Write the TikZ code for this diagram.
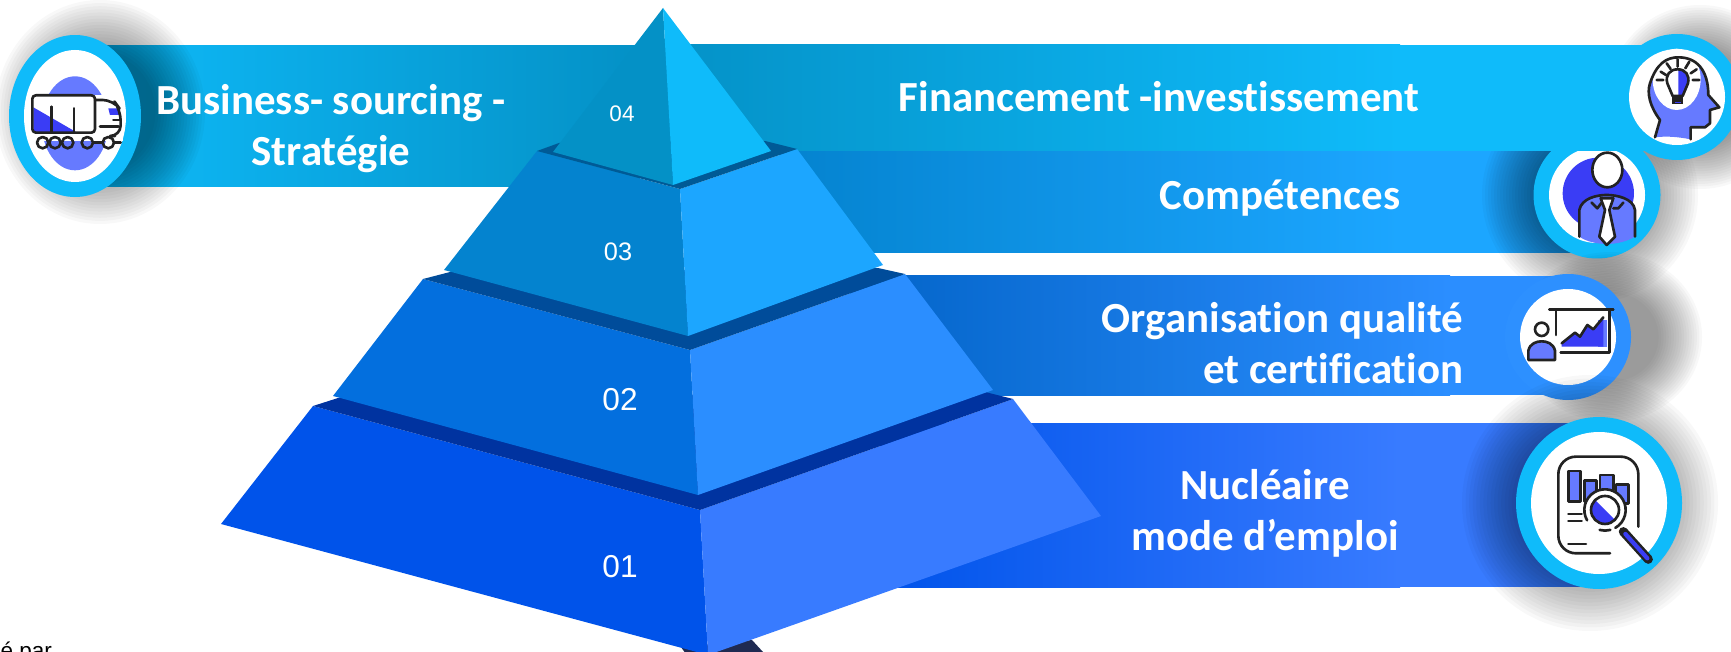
\documentclass[tikz,border=0pt]{standalone}
\usepackage{fontspec}
\setmainfont[Ligatures=NoCommon]{Carlito}
\newfontfamily\numfont{Liberation Sans}

\definecolor{ringcyan}{HTML}{0FBBFA}
\definecolor{ringblue}{HTML}{2D90FF}
\definecolor{iconlight}{HTML}{667AFF}
\definecolor{icondeep}{HTML}{3A3DF5}
\definecolor{iconink}{HTML}{222222}
\definecolor{faceA}{HTML}{0053EA}
\definecolor{faceB}{HTML}{387BFF}
\definecolor{faceC}{HTML}{036FDE}
\definecolor{faceD}{HTML}{2B8EFF}
\definecolor{faceE}{HTML}{0483CF}
\definecolor{faceF}{HTML}{1CA6FF}
\definecolor{faceG}{HTML}{0491C6}
\definecolor{faceH}{HTML}{0FBBFA}
\definecolor{rimA}{HTML}{0033A0}
\definecolor{rimB}{HTML}{004C9A}
\definecolor{rimC}{HTML}{005A96}
\definecolor{baseink}{HTML}{1F2A52}

\tikzset{
	haze/.style={fill=black, opacity=0.028},
	barlabel/.style={text=white, font=\fontsize{12.2}{14.5}\selectfont\bfseries, inner sep=0},
	levellabel/.style={text=white, inner sep=0},
	iconline/.style={draw=iconink, line width=0.75pt, line cap=round, line join=round}
}

\begin{document}
\begin{tikzpicture}[x=0.01cm, y=-0.01cm]
	\useasboundingbox (0, 0) rectangle (1731, 652);
	\clip (0, 0) rectangle (1731, 652);
	% Bands, rings and icons, then the pyramid over them:
	\node[anchor=base west, inner sep=0, font=\numfont\fontsize{6.4}{8}\selectfont] (bylabel) at (0, 658) {é par};
	\foreach \k in {1,...,18} \fill[haze] (1700, 97) circle [radius={92*(0.5+\k/36)}];
	\shade[left color=faceE, right color=faceF] (780, 151) rectangle (1400, 253);
	\fill[faceF] (1399, 151) rectangle (1590, 253);
	\foreach \k in {1,...,18} \fill[haze] (1590, 195) circle [radius={108*(0.5+\k/36)}];
	\fill[ringcyan] (1597, 195) circle [radius=63.5];
	\fill[white] (1597, 195) circle [radius=48];
	\shade[left color=faceG, right color=faceH] (650, 45) rectangle (1400, 151);
	\fill[faceH] (1399, 45) rectangle (1660, 151);
	\fill[ringcyan] (1677, 97) circle [radius=63];
	\fill[white] (1677, 97) circle [radius=48];
	\shade[left color=faceH, right color=faceG] (75, 46) rectangle (640, 187);
	\foreach \k in {1,...,18} \fill[haze] (100, 112) ellipse [x radius={105*(0.5+\k/36)}, y radius={112*(0.5+\k/36)}];
	\fill[ringcyan] (75, 116) ellipse [x radius=66, y radius=81];
	\fill[white] (75, 116) ellipse [x radius=51, y radius=66];
	\shade[left color=faceC!90!black, right color=faceD] (850, 276) rectangle (1450, 395);
	\fill[faceD] (1449, 276) rectangle (1560, 395);
	\foreach \k in {1,...,18} \fill[haze] (1610, 337) ellipse [x radius={92*(0.5+\k/36)}, y radius={85*(0.5+\k/36)}];
	\fill[ringblue] (1568, 337) circle [radius=63];
	\fill[white] (1568, 337) circle [radius=48];
	\shade[left color=faceA, right color=faceB] (880, 423) rectangle (1400, 587);
	\fill[faceB] (1399, 423) rectangle (1590, 587);
	\foreach \k in {1,...,18} \fill[haze] (1590, 503) circle [radius={128*(0.5+\k/36)}];
	\fill[ringcyan] (1599, 503) ellipse [x radius=83, y radius=86];
	\fill[white] (1599, 503) ellipse [x radius=68, y radius=71];

	% truck
	\begin{scope}[scale=0.3333]
		\fill[iconlight] (225, 370) ellipse [x radius=100, y radius=141];
		\fill[white] (95, 285) rectangle (368, 424);
		\fill[icondeep] (100, 322) -- (100, 396) -- (228, 396) -- cycle;
		\fill[icondeep] (325, 325) -- (352, 325) -- (360, 345) -- (330, 345) -- cycle;
		\draw[iconline, rounded corners=1] (285, 398) -- (97, 398) -- (97, 286) -- (285, 286) -- cycle;
		\draw[iconline] (155, 320) -- (155, 395) (222, 325) -- (222, 395);
		\draw[iconline, rounded corners=3] (285, 300) -- (340, 300) -- (362, 330) -- (362, 408) -- (345, 408);
		\draw[iconline] (300, 380) -- (355, 380) (340, 360) -- (360, 360);
		\draw[iconline] (128, 428) circle [radius=17] (165, 428) circle [radius=17] (203, 428) circle [radius=17] (262, 428) circle [radius=17] (325, 428) circle [radius=17];
		\draw[iconline] (280, 428) -- (307, 428) (342, 428) -- (362, 428);
	\end{scope}

	% head with bulb
	\begin{scope}[shift={(1350, 20)}, scale=0.3333]
		\fill[iconlight] (915, 352) -- (930, 300) .. controls (900, 260) and (890, 220) .. (900, 190) .. controls (920, 130) and (950, 112) .. (985, 112) .. controls (1040, 112) and (1075, 150) .. (1075, 225) -- (1108, 262) -- (1080, 270) -- (1080, 310) -- (1065, 322) -- (1022, 322) -- (1022, 358) .. controls (980, 350) and (950, 348) .. (915, 352) -- cycle;
		\fill[white] (980, 178) ellipse [x radius=72, y radius=92];
		\fill[icondeep] (985, 148) .. controls (1005, 150) and (1018, 170) .. (1015, 185) -- (998, 228) -- (985, 228) -- cycle;
		\draw[iconline] (915, 352) -- (930, 300) .. controls (900, 260) and (890, 220) .. (900, 190) .. controls (920, 130) and (950, 112) .. (985, 112) .. controls (1040, 112) and (1075, 150) .. (1075, 225) -- (1108, 262) -- (1080, 270) -- (1080, 310) -- (1065, 322) -- (1022, 322) -- (1022, 358);
		\draw[iconline] (968, 228) -- (952, 190) .. controls (945, 165) and (960, 148) .. (983, 148) .. controls (1006, 148) and (1020, 165) .. (1014, 190) -- (998, 228) -- cycle;
		\fill[iconink] (965, 230) rectangle (1000, 252);
		\fill[icondeep] (975, 245) rectangle (992, 249);
		\draw[iconline] (920, 180) -- (940, 180) (932, 155) -- (948, 165) (950, 130) -- (962, 147) (983, 118) -- (983, 140) (1018, 125) -- (1006, 145) (1040, 148) -- (1022, 160) (1048, 180) -- (1028, 180);
	\end{scope}

	% man with tie
	\begin{scope}[shift={(1350, 20)}, scale=0.3333]
		\fill[icondeep] (745, 520) circle [radius=107];
		\fill[iconlight] (688, 650) -- (688, 570) .. controls (695, 535) and (740, 525) .. (770, 525) .. controls (800, 525) and (850, 535) .. (855, 570) -- (855, 650) .. controls (830, 665) and (800, 672) .. (770, 672) .. controls (740, 672) and (710, 665) .. (688, 650) -- cycle;
		\draw[iconline, fill=white] (772, 450) ellipse [x radius=45, y radius=52];
		\draw[iconline] (688, 650) -- (688, 570) .. controls (695, 535) and (740, 525) .. (770, 525) .. controls (800, 525) and (850, 535) .. (855, 570) -- (855, 650);
		\draw[iconline, fill=white] (752, 535) -- (790, 535) -- (778, 570) -- (795, 650) -- (770, 675) -- (748, 650) -- (765, 570) -- cycle;
		\draw[iconline] (725, 548) -- (742, 565) -- (755, 548) (790, 565) -- (805, 565) -- (820, 548);
	\end{scope}

	% presenter with chart
	\begin{scope}[shift={(1350, 240)}, scale=0.3333]
		\fill[iconlight] (745, 240) rectangle (770, 320);
		\fill[icondeep] (635, 320) -- (635, 310) -- (675, 278) -- (690, 290) -- (712, 255) -- (730, 268) -- (760, 232) -- (760, 320) -- cycle;
		\draw[iconline] (635, 310) -- (675, 278) -- (690, 290) -- (712, 255) -- (730, 268) -- (760, 232);
		\draw[iconline] (598, 208) -- (790, 208) (618, 208) -- (618, 285) (778, 208) -- (778, 338) -- (632, 338);
		\draw[iconline] (575, 268) circle [radius=20];
		\draw[iconline, fill=iconlight] (535, 360) -- (535, 332) .. controls (540, 310) and (560, 304) .. (575, 304) .. controls (590, 304) and (610, 310) .. (615, 332) -- (615, 360) -- cycle;
	\end{scope}

	% report under a lens
	\begin{scope}[shift={(1350, 240)}, scale=0.3333]
		\draw[iconline, rounded corners=5] (865, 860) -- (865, 650) -- (625, 650) -- (625, 940) -- (780, 940);
		\draw[iconline, fill=iconlight] (655, 693) rectangle (692, 785);
		\draw[iconline, fill=iconlight] (703, 722) rectangle (740, 785);
		\draw[iconline, fill=iconlight] (750, 705) rectangle (790, 750);
		\draw[iconline, fill=iconlight] (798, 733) rectangle (835, 790);
		\draw[iconline] (655, 822) -- (695, 822) (655, 843) -- (695, 843) (655, 912) -- (708, 912);
		\fill[white] (765, 810) circle [radius=62];
		\fill[icondeep] (735, 780) arc [start angle=225, end angle=45, radius=42] -- cycle;
		\draw[iconline] (765, 810) circle [radius=42];
		\draw[iconline] ([shift={(150:62)}]765, 810) arc [start angle=150, end angle=420, radius=62];
		\draw[iconline] ([shift={(105:62)}]765, 810) arc [start angle=105, end angle=75, radius=62];
		\draw[draw=iconink, line width=2.6pt, line cap=round] (820, 875) -- (895, 958);
		\draw[icondeep, line width=1.2pt, line cap=round] (826, 882) -- (892, 955);
	\end{scope}

	% pyramid
	\fill[baseink] (681, 647) -- (752, 640) -- (763, 652) -- (690, 660) -- cycle;
	\fill[faceA] (313, 406) -- (700, 510) -- (708, 655) -- (221, 524) -- cycle;
	\fill[faceB] (700, 510) -- (1013, 399) -- (1101, 516) -- (708, 655) -- cycle;
	\fill[rimA] (313, 406) -- (338, 398) -- (985, 392) -- (1013, 399) -- (700, 510) -- cycle;
	\fill[faceC] (423, 279) -- (690, 350) -- (698, 495) -- (333, 396) -- cycle;
	\fill[faceD] (690, 350) -- (905, 274) -- (993, 390) -- (698, 495) -- cycle;
	\fill[rimB] (423, 279) -- (450, 272) -- (878, 268) -- (905, 274) -- (690, 350) -- cycle;
	\fill[faceE] (537, 151) -- (680, 189) -- (688, 336) -- (444, 270) -- cycle;
	\fill[faceF] (680, 189) -- (797, 149) -- (883, 265) -- (688, 336) -- cycle;
	\fill[rimC] (537, 151) -- (559, 143) -- (765, 141) -- (797, 149) -- (680, 189) -- cycle;
	\fill[faceG] (663, 8) -- (673, 185) -- (553, 152) -- cycle;
	\fill[faceH] (663, 8) -- (771, 151) -- (673, 185) -- cycle;

	\node[levellabel, font=\numfont\fontsize{6.4}{8}\selectfont] (lvlD) at (622, 114) {04};
	\node[levellabel, font=\numfont\fontsize{7.2}{9}\selectfont] (lvlC) at (618, 252) {03};
	\node[levellabel, font=\numfont\fontsize{9}{11}\selectfont] (lvlB) at (620, 400) {02};
	\node[levellabel, font=\numfont\fontsize{9}{11}\selectfont] (lvlA) at (620, 567) {01};

	\node[barlabel, align=center] (txtBusiness) at (331, 129) {Business- sourcing -\\Stratégie};
	\node[barlabel, anchor=base] (txtFinance) at (1159, 112) {Financement -investissement};
	\node[barlabel, anchor=base] (txtSkills) at (1280, 210) {Compétences};
	\node[barlabel, align=right, anchor=east] (txtQuality) at (1464, 343) {Organisation qualité\\et certification};
	\node[barlabel, align=center] (txtNuclear) at (1265, 513) {Nucléaire\\mode d’emploi};
\end{tikzpicture}
\end{document}
